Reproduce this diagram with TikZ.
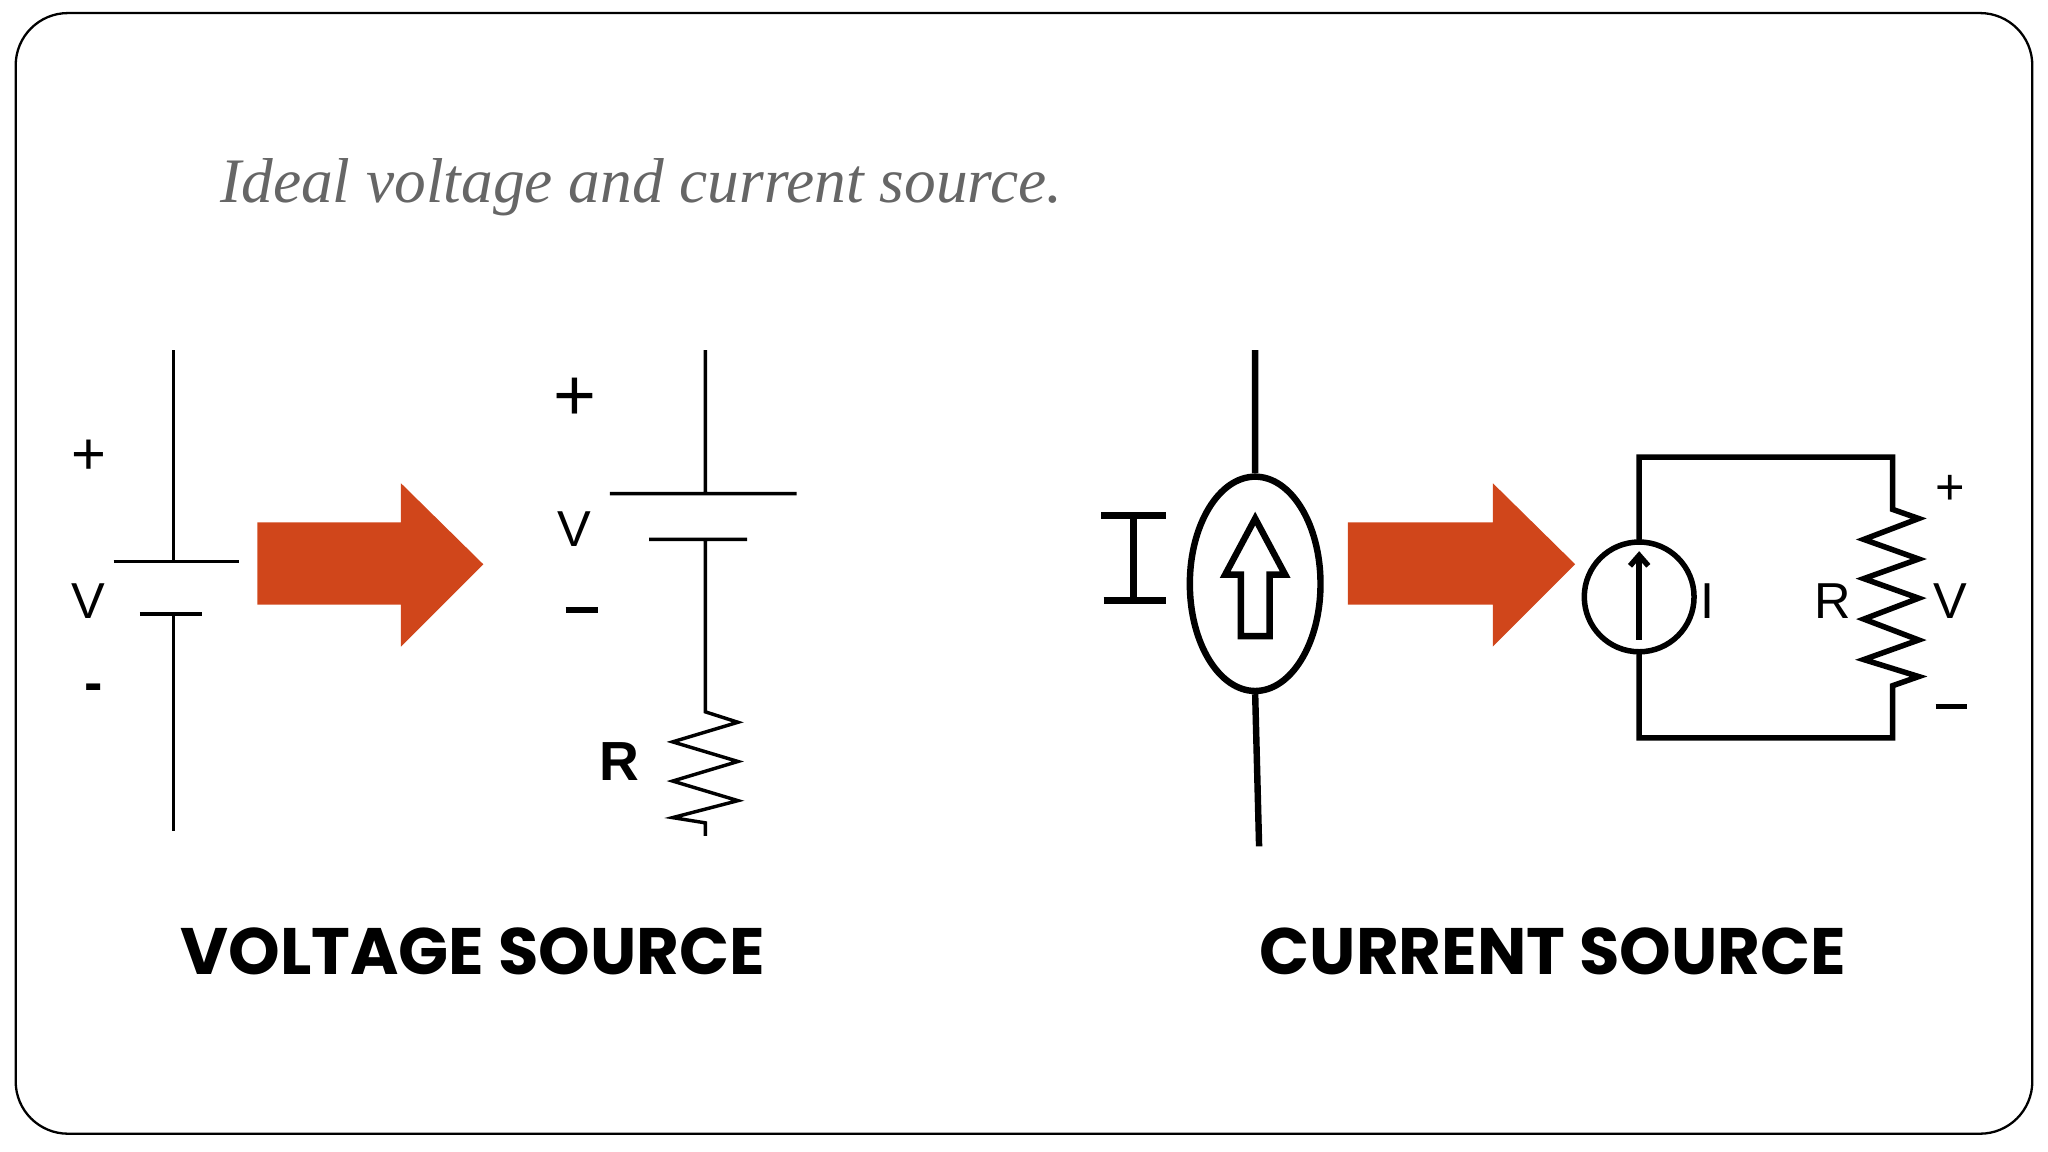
\documentclass[tikz,border=0pt]{standalone}
\usepackage{fontspec}
\usetikzlibrary{shapes.geometric,arrows.meta}
\setmainfont{Liberation Serif}
\newfontfamily\labfont{Poppins}
\newfontfamily\helv{Liberation Sans}
\definecolor{arr}{HTML}{D0461B}
\begin{document}
\begin{tikzpicture}[x=0.01cm,y=-0.01cm,
  wire/.style={line width=1.2pt,line cap=round},
  thin/.style={line width=0.75pt},
  bigarrow/.style={fill=arr,draw=none},
  lab/.style={font=\labfont\bfseries\fontsize{14.3}{17}\selectfont},
  sym/.style={font=\helv\fontsize{11}{13}\selectfont}]
\useasboundingbox (0,0) rectangle (1568,882);
\draw[line width=0.5pt,rounded corners=0.4cm] (12,10) rectangle (1556,868);
\node[anchor=base west,inner sep=0,text=black!60,font=\itshape\fontsize{13.8}{16}\selectfont] (title) at (168,155) {Ideal voltage and current source.};
% left battery
\coordinate (a1) at (133,268); \coordinate (a2) at (133,430);
\coordinate (a3) at (133,470); \coordinate (a4) at (133,636);
\draw[thin] (a1) -- (a2) (87,430) -- (183,430) (107,470) -- (155,470) (a3) -- (a4);
\node[sym,font=\helv\fontsize{13}{15}\selectfont] (p1) at (68,350) {+};
\node[sym] (v1) at (68,460) {V};
\node[sym,font=\helv\bfseries\fontsize{12}{13}\selectfont] (m1) at (72,530) {-};
% arrow 1
\fill[bigarrow] (197,400) -- (307,400) -- (307,370) -- (370,432) -- (307,495) -- (307,463) -- (197,463) -- cycle;
% second battery
\coordinate (b1) at (540,268); \coordinate (b2) at (540,378);
\coordinate (b3) at (540,413); \coordinate (b4) at (540,530);
\draw[thin] (b1) -- (b2) (467,378) -- (610,378) (497,413) -- (572,413) (b3) -- (b4)
  -- (540,545) -- (565,553) -- (515,568) -- (565,583) -- (515,598) -- (565,613) -- (515,626) -- (540,630) -- (540,640);
\node[sym,font=\helv\fontsize{16}{18}\selectfont] (p2) at (440,306) {+};
\node[sym] (v2) at (440,405) {V};
\draw[line width=1.2pt] (433,467) -- (458,467);
\node[sym,font=\helv\bfseries\fontsize{12}{14}\selectfont] (r2) at (474,583) {R};
% current source 1
\node[draw,line width=1.4pt,ellipse,minimum width=1cm,minimum height=1.64cm,inner sep=0] (cs) at (961,447) {};
\draw[line width=1.4pt] (961,268) -- (cs.north) (cs.south) -- (964,648);
\draw[line width=1.4pt,line join=miter] (950,487) -- (950,440) -- (938,440) -- (961,397) -- (984,440) -- (972,440) -- (972,487) -- cycle;
\draw[line width=1.5pt] (868,395) -- (868,460) (843,395) -- (893,395) (845,460) -- (893,460);
% arrow 2
\fill[bigarrow] (1032,400) -- (1143,400) -- (1143,370) -- (1206,432) -- (1143,495) -- (1143,463) -- (1032,463) -- cycle;
% circuit
\node[draw,line width=1.2pt,circle,minimum size=0.84cm,inner sep=0] (c2) at (1255,457) {};
\draw[wire] (c2.north) -- (1255,350) -- (1449,350) -- (1449,390)
  -- (1469,397) -- (1427,413) -- (1469,428) -- (1427,443) -- (1469,458) -- (1427,474) -- (1469,490) -- (1427,505) -- (1469,518) -- (1449,525)
  -- (1449,565) -- (1255,565) -- (c2.south);
\draw[line width=1.2pt,-{Straight Barb[length=0.08cm,width=0.14cm]}] (1255,490) -- (1255,422);
\node[sym] (ic) at (1307,460) {I};
\node[sym] (rc) at (1403,460) {R};
\node[sym] (vc) at (1493,460) {V};
\node[sym] (pc) at (1493,375) {+};
\draw[line width=1pt] (1482,541) -- (1506,541);
% labels
\node[lab] (l1) at (362,728) {VOLTAGE SOURCE};
\node[lab] (l2) at (1189,728) {CURRENT SOURCE};
\end{tikzpicture}
\end{document}
